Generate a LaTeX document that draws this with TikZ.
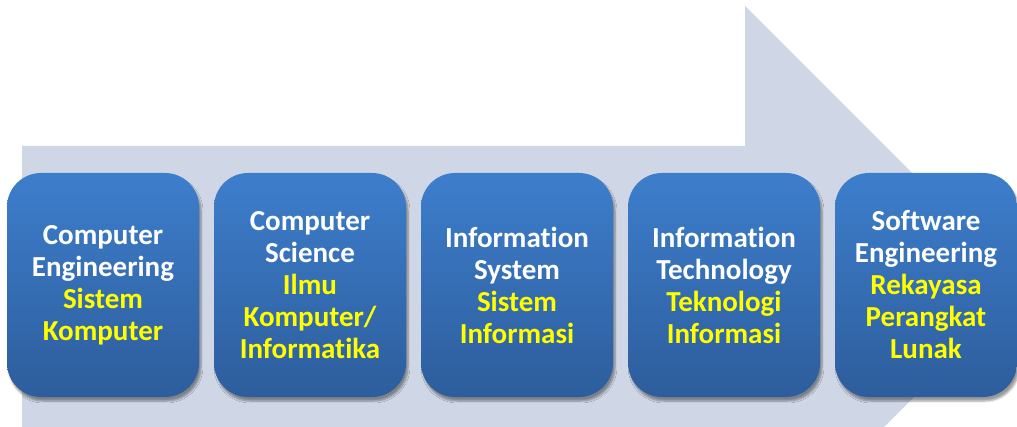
\documentclass[tikz,border=0pt]{standalone}
\usepackage{fontspec}
\setmainfont[Ligatures={NoCommon,NoRare}]{Carlito}
\usetikzlibrary{shadows.blur}
\definecolor{arrowbg}{HTML}{CFD7E6}
\definecolor{boxtop}{HTML}{3D7ECC}
\definecolor{boxbot}{HTML}{2D5D9C}
\definecolor{ylw}{HTML}{FFFF00}
\tikzset{
  x=1pt,y=1pt,
  card/.style={rounded corners=34pt, top color=boxtop, bottom color=boxbot,
    blur shadow={shadow xshift=2pt, shadow yshift=-4pt, shadow blur steps=6, shadow opacity=40},
    text=white, font=\fontsize{29}{32}\selectfont\bfseries, align=center,
    minimum height=224pt, inner sep=0pt},
}
\newcommand{\yl}[1]{\textcolor{ylw}{#1}}
\begin{document}
\begin{tikzpicture}
\useasboundingbox (0,0) rectangle (1017,-427);
\begin{scope}
\clip (0,0) rectangle (1017,-427);
\fill[arrowbg] (22,-146) -- (745,-146) -- (745,-6) -- (1025,-286) -- (745,-566) -- (745,-427) -- (22,-427) -- cycle;
\end{scope}
\node[card, minimum width=192pt] (ce) at (103,-285) {Computer\\Engineering\\\yl{Sistem}\\\yl{Komputer}};
\node[card, minimum width=192pt] (cs) at (310,-285) {Computer\\Science\\\yl{Ilmu}\\\yl{Komputer/}\\\yl{Informatika}};
\node[card, minimum width=192pt] (is) at (517,-285) {Information\\System\\\yl{Sistem}\\\yl{Informasi}};
\node[card, minimum width=192pt] (it) at (724,-285) {Information\\Technology\\\yl{Teknologi}\\\yl{Informasi}};
\node[card, minimum width=182pt] (se) at (926,-285) {Software\\Engineering\\\yl{Rekayasa}\\\yl{Perangkat}\\\yl{Lunak}};
\end{tikzpicture}
\end{document}
